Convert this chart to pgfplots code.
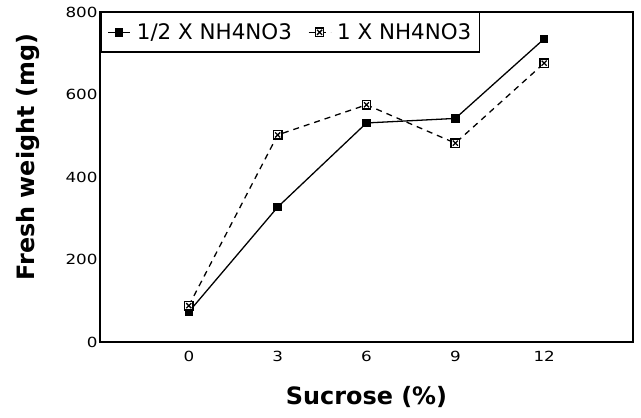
\documentclass[border=0pt]{standalone}
\usepackage{fontspec}
\setmainfont{DejaVu Sans}
\usepackage{pgfplots}
\pgfplotsset{compat=1.18}
\usetikzlibrary{calc}
\pgfdeclareplotmark{boxx}{%
  \pgfpathrectangle{\pgfpoint{-\pgfplotmarksize}{-\pgfplotmarksize}}{\pgfpoint{2\pgfplotmarksize}{2\pgfplotmarksize}}%
  \pgfusepathqfillstroke
  \pgfpathmoveto{\pgfpoint{-0.6\pgfplotmarksize}{-0.6\pgfplotmarksize}}%
  \pgfpathlineto{\pgfpoint{0.6\pgfplotmarksize}{0.6\pgfplotmarksize}}%
  \pgfpathmoveto{\pgfpoint{-0.6\pgfplotmarksize}{0.6\pgfplotmarksize}}%
  \pgfpathlineto{\pgfpoint{0.6\pgfplotmarksize}{-0.6\pgfplotmarksize}}%
  \pgfusepathqstroke
}
\newcommand{\tl}[1]{\scalebox{1.2}[1]{#1}}
\begin{document}
\begin{tikzpicture}
\begin{axis}[
  scale only axis,
  width=533bp, height=330bp,
  xmin=-3, xmax=15, ymin=0, ymax=800,
  xtick={0,3,6,9,12}, ytick={0,200,400,600,800},
  xticklabels={\tl{0},\tl{3},\tl{6},\tl{9},\tl{12}},
  yticklabels={\tl{0},\tl{200},\tl{400},\tl{600},\tl{800}},
  major tick length=0pt,
  axis line style={line width=1.4pt},
  tick label style={font=\fontsize{14}{17}\selectfont},
  xticklabel style={yshift=-6bp},
  yticklabel style={xshift=1bp},
  xlabel={Sucrose (\%)},
  ylabel={Fresh weight (mg)},
  every axis x label/.style={at={(axis description cs:0.5,-0.167)}, anchor=center, font=\fontsize{24}{28}\selectfont\bfseries},
  every axis y label/.style={at={(axis description cs:-0.135,0.56)}, rotate=90, anchor=center, font=\fontsize{24}{28}\selectfont\bfseries},
  legend columns=2,
  legend style={at={(axis description cs:0,1)}, anchor=north west, xshift=1bp,
    draw=black, line width=1.2pt, inner xsep=6bp, inner ysep=9bp,
    font=\fontsize{21.5}{25}\selectfont,
    /tikz/every odd column/.append style={column sep=4bp},
    /tikz/every even column/.append style={column sep=14bp}},
  legend image code/.code={\draw[#1, mark repeat=2, mark phase=2] plot coordinates {(0bp,0bp) (11bp,0bp) (22bp,0bp)};},
]
\addplot[black, line width=1.3pt, mark=square*, mark size=3.6bp] coordinates {
  (0,73) (3,327) (6,531) (9,542) (12,735)};
\addlegendentry{1/2 X NH4NO3}
\addplot[black, line width=1.3pt, dashed, dash pattern=on 6bp off 5bp, mark=boxx, mark size=4.2bp,
  mark options={solid, fill=white, line width=1.3pt}] coordinates {
  (0,88) (3,502) (6,575) (9,482) (12,676)};
\addlegendentry{1 X NH4NO3}
\end{axis}
\pgfresetboundingbox
\path[use as bounding box] ($(current axis.south west)+(-100bp,-76bp)$) rectangle ($(current axis.north east)+(8bp,12bp)$);
\end{tikzpicture}
\end{document}
